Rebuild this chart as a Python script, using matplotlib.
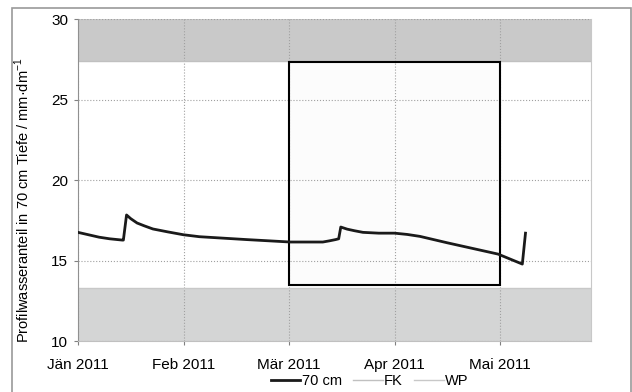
import matplotlib.pyplot as plt
import matplotlib.patches as mpatches
import numpy as np

plt.rcParams['font.family'] = ['Liberation Sans', 'DejaVu Sans']
plt.rcParams['mathtext.fontset'] = 'custom'
plt.rcParams['mathtext.rm'] = 'Liberation Sans'

# Zeitachse in Monaten ab 1. Jan 2011 (0 = Jän, 1 = Feb, ...)
monate = ["Jän 2011", "Feb 2011", "Mär 2011", "Apr 2011", "Mai 2011"]
t = [0.0, 0.1, 0.2, 0.3, 0.42, 0.43, 0.46, 0.50, 0.56, 0.63, 0.71, 0.85, 1.0,
     1.15, 1.35, 1.6, 1.82, 2.01, 2.32, 2.38, 2.44, 2.47, 2.49, 2.55, 2.62,
     2.70, 2.85, 3.0, 3.12, 3.24, 3.50, 3.98, 4.21, 4.24]
wasser_70 = [16.75, 16.6, 16.45, 16.35, 16.27, 16.27, 17.83, 17.6, 17.33, 17.15,
             16.96, 16.78, 16.6, 16.48, 16.4, 16.3, 16.22, 16.15, 16.15, 16.22,
             16.3, 16.35, 17.08, 16.95, 16.85, 16.75, 16.7, 16.7, 16.62, 16.5,
             16.1, 15.4, 14.78, 16.7]
FK = 27.4
WP = 13.3
# Beobachtungszeitraum (Kasten)
zeitraum = (2.0, 4.0)
kasten_y = (13.5, 27.3)

fig = plt.figure(figsize=(6.32, 3.92), dpi=100)
ax = fig.add_axes([0.1234, 0.130, 0.8116, 0.8215])

# Rahmen um die ganze Grafik
fig.patches.append(mpatches.Rectangle((0.019, -0.05), 0.979, 1.03, transform=fig.transFigure,
                                      fill=False, edgecolor="#9a9a9a", linewidth=1.2))

ax.set_xlim(0, 4.86)
ax.set_ylim(10, 30)

# Bereiche oberhalb FK und unterhalb WP
ax.fill_between([0, 4.86], FK, 30, color="#c9c9c9", zorder=0.2, linewidth=0)
ax.fill_between([0, 4.86], 10, WP, color="#d4d5d5", zorder=0.2, linewidth=0)

ax.add_patch(mpatches.Rectangle((zeitraum[0], kasten_y[0]), zeitraum[1] - zeitraum[0],
                                kasten_y[1] - kasten_y[0], facecolor="#fcfcfc",
                                edgecolor="none", zorder=0.3))
ax.add_patch(mpatches.Rectangle((zeitraum[0], kasten_y[0]), zeitraum[1] - zeitraum[0],
                                kasten_y[1] - kasten_y[0], fill=False,
                                edgecolor="black", linewidth=1.5, zorder=2))

ax.grid(True, color="#a0a0a0", linestyle=":", linewidth=0.8, zorder=0.5)
ax.set_axisbelow(True)

ax.plot(t, wasser_70, color="#1a1a1a", linewidth=2, label="70 cm", zorder=3,
        solid_joinstyle="round")
ax.plot([0, 4.86], [FK, FK], color="#c0c0c0", linewidth=1, label="FK", zorder=1)
ax.plot([0, 4.86], [WP, WP], color="#c8c8c8", linewidth=1, label="WP", zorder=1)

ax.set_xticks(range(len(monate)))
ax.set_xticklabels(monate)
ax.set_yticks([10, 15, 20, 25, 30])
ax.tick_params(labelsize=11, length=3, color="#808080")
ax.tick_params(axis="x", pad=9)
ax.tick_params(axis="y", pad=4)

ax.spines["top"].set_visible(False)
ax.spines["right"].set_color("#c8c8c8")
ax.spines["left"].set_color("#909090")
ax.spines["bottom"].set_color("#c0c0c0")

ax.set_ylabel("Profilwasseranteil in 70 cm Tiefe / mm·dm$^{\\mathregular{-1}}$",
              fontsize=10.5)
ax.yaxis.set_label_coords(-0.09, 0.438)

fig.legend(loc="center", bbox_to_anchor=(0.585, 0.028), ncol=3, frameon=False,
           fontsize=10.5, handlelength=2.0, handletextpad=0.1, columnspacing=0.8)

plt.savefig("out.png", dpi=100)
